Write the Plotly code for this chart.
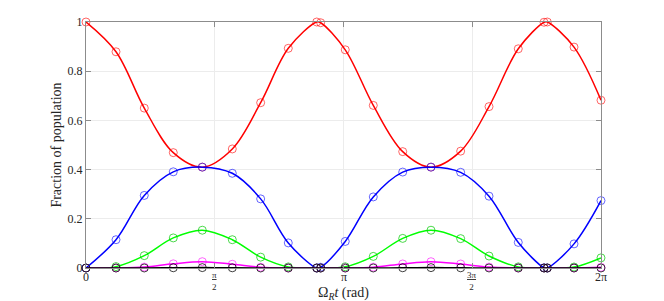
import math
import plotly.graph_objects as go

# sample times (rad) where the curves were read / markers sit
t = [0.0, 0.366, 0.711, 1.065, 1.419, 1.785, 2.131, 2.468, 2.815, 2.863, 3.163,
     3.505, 3.864, 4.209, 4.571, 4.917, 5.274, 5.588, 5.628, 5.954, 6.2831]

red = [1.0, 0.879, 0.650, 0.469, 0.410, 0.484, 0.672, 0.893, 1.0, 0.997, 0.887,
       0.661, 0.473, 0.410, 0.475, 0.656, 0.891, 0.999, 1.0, 0.898, 0.682]
blue = [0.0, 0.115, 0.295, 0.391, 0.410, 0.385, 0.281, 0.102, 0.0, 0.003, 0.108,
        0.289, 0.390, 0.410, 0.389, 0.292, 0.104, 0.001, 0.0, 0.098, 0.274]
green = [0.0, 0.0056, 0.0503, 0.1223, 0.1536, 0.1150, 0.0442, 0.0044, 0.0, 0.0, 0.0049,
         0.0472, 0.1204, 0.1536, 0.1194, 0.0487, 0.0046, 0.0, 0.0, 0.0040, 0.0412]
magenta = [0.0, 0.0001, 0.0038, 0.0170, 0.0256, 0.0153, 0.0031, 0.0001, 0.0, 0.0, 0.0001,
           0.0034, 0.0165, 0.0256, 0.0163, 0.0036, 0.0001, 0.0, 0.0, 0.0001, 0.0028]
black = [0.0, 0.0, 0.0001, 0.0009, 0.0016, 0.0008, 0.0001, 0.0, 0.0, 0.0, 0.0,
         0.0001, 0.0009, 0.0016, 0.0008, 0.0001, 0.0, 0.0, 0.0, 0.0, 0.0001]

series = [("red", red, "#ff0000", "rgba(255,0,0,0.6)"),
          ("blue", blue, "#0000ff", "rgba(0,0,255,0.6)"),
          ("green", green, "#00ff00", "rgba(0,200,0,0.7)"),
          ("magenta", magenta, "#ff00ff", "rgba(255,0,255,0.6)"),
          ("black", black, "#000000", "rgba(0,0,0,0.75)")]

x_tickvals = [0, math.pi / 2, math.pi, 3 * math.pi / 2, 2 * math.pi]
x_ticktext = ["0", "<u>π</u><br>2", "π", "<u>3π</u><br>2", "2π"]
x_ticksize = [12, 9, 12, 9, 12]
x_ticky = [-0.037, -0.052, -0.037, -0.052, -0.037]
y_tickvals = [0, 0.2, 0.4, 0.6, 0.8, 1]
y_ticktext = ["0", "0.2", "0.4", "0.6", "0.8", "1"]

FONT = "Liberation Serif, DejaVu Serif, serif"

fig = go.Figure()
for name, ys, col, mcol in series:
    fig.add_trace(go.Scatter(
        x=t, y=ys, mode="lines+markers", name=name,
        line=dict(color=col, width=1.5, shape="spline", smoothing=1.0),
        marker=dict(symbol="circle-open", size=8, color=mcol, line=dict(width=1, color=mcol)),
        cliponaxis=False, showlegend=False))

# x tick labels (fractions need stacked text, so placed as annotations on the x scale)
for v, txt, fs, yy in zip(x_tickvals, x_ticktext, x_ticksize, x_ticky):
    fig.add_annotation(x=v, xref="x", y=yy, yref="paper", text=txt,
                       showarrow=False, xanchor="center", yanchor="middle",
                       font=dict(family=FONT, size=fs, color="#262626"))

# x axis title
fig.add_annotation(x=0.5, xref="paper", y=-0.104, yref="paper",
                   text="Ω<sub><i>R</i></sub><i>t</i> (rad)", showarrow=False,
                   xanchor="center", yanchor="middle",
                   font=dict(family=FONT, size=14, color="#262626"))

axis_common = dict(showline=True, linecolor="#8c8c8c", linewidth=1, mirror="ticks",
                   ticks="inside", ticklen=5, tickcolor="#8c8c8c", automargin=False,
                   showgrid=True, gridcolor="#ececec", gridwidth=1, zeroline=False)

fig.update_layout(
    width=664, height=301,
    margin=dict(l=78, r=71, t=14, b=41),
    paper_bgcolor="white", plot_bgcolor="white",
    font=dict(family=FONT, size=12, color="#262626"),
    xaxis=dict(range=[0, 2 * math.pi], tickvals=x_tickvals, showticklabels=False,
               **axis_common),
    yaxis=dict(range=[0, 1], tickvals=y_tickvals, ticktext=y_ticktext,
               tickfont=dict(size=12),
               title=dict(text="Fraction of population", standoff=2, font=dict(size=14)),
               **axis_common),
)

fig.write_html("out.html")
